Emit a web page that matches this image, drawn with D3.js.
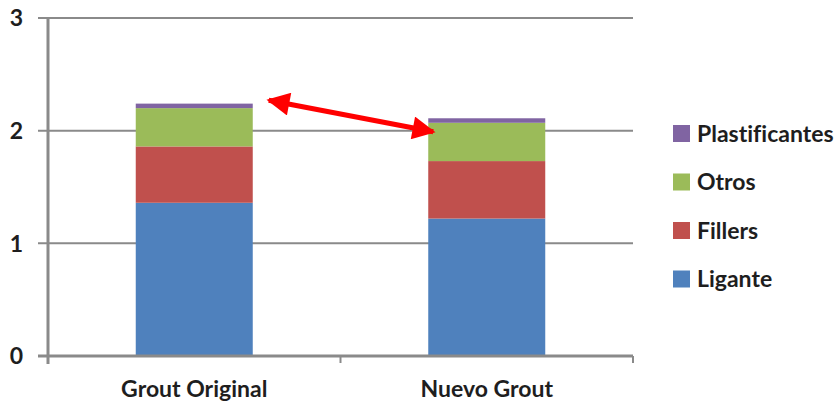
<!DOCTYPE html>
<html>
<head>
<meta charset="utf-8">
<script src="https://cdn.jsdelivr.net/npm/d3@7"></script>
<style>
  html, body { margin: 0; padding: 0; background: #fff; }
  svg { display: block; }
  text { font-family: Lato, "Open Sans", sans-serif; fill: #1e1e1e; font-variant-ligatures: none; }
</style>
</head>
<body>
<svg id="chart" width="840" height="403"></svg>
<script>
// Composition of each grout (stacked bottom to top)
const categories = ["Grout Original", "Nuevo Grout"];
const seriesNames = ["Ligante", "Fillers", "Otros", "Plastificantes"];
const ligante = [1.36, 1.22];
const fillers = [0.50, 0.51];
const otros = [0.34, 0.34];
const plastificantes = [0.04, 0.04];
const yTicks = [0, 1, 2, 3];
const seriesColors = ["#4F81BD", "#C0504D", "#9BBB59", "#8064A2"];

const rows = categories.map((c, i) => ({
  category: c,
  Ligante: ligante[i],
  Fillers: fillers[i],
  Otros: otros[i],
  Plastificantes: plastificantes[i]
}));

const svg = d3.select("#chart");
const plotLeft = 48, plotRight = 633, plotTop = 18, plotBottom = 356;
const fontSize = 23;

const x = d3.scaleBand().domain(categories).range([plotLeft, plotRight]).padding(0);
const y = d3.scaleLinear().domain([0, 3]).range([plotBottom, plotTop]);
const color = d3.scaleOrdinal().domain(seriesNames).range(seriesColors);

const axisColor = "#8a8a8a";

// Horizontal gridlines with short ticks to the left of the axis
svg.append("g")
  .selectAll("line")
  .data(yTicks.filter(t => t > 0))
  .join("line")
  .attr("x1", plotLeft - 10).attr("x2", plotRight)
  .attr("y1", d => y(d)).attr("y2", d => y(d))
  .attr("stroke", axisColor).attr("stroke-width", 2);

// Y tick labels
svg.append("g")
  .selectAll("text")
  .data(yTicks)
  .join("text")
  .attr("x", 23)
  .attr("y", d => y(d))
  .attr("dy", "0.36em")
  .attr("text-anchor", "end")
  .attr("font-size", fontSize)
  .attr("font-weight", 700)
  .text(d => d);

// Stacked bars
const stacked = d3.stack().keys(seriesNames)(rows);
const barW = x.bandwidth() * 0.4;
svg.append("g")
  .selectAll("g")
  .data(stacked)
  .join("g")
  .attr("fill", d => color(d.key))
  .selectAll("rect")
  .data(d => d)
  .join("rect")
  .attr("x", d => x(d.data.category) + (x.bandwidth() - barW) / 2)
  .attr("width", barW)
  .attr("y", d => y(d[1]))
  .attr("height", d => y(d[0]) - y(d[1]));

// Axes: vertical axis and baseline with category separators
svg.append("line")
  .attr("x1", plotLeft - 10).attr("x2", plotRight)
  .attr("y1", plotBottom).attr("y2", plotBottom)
  .attr("stroke", axisColor).attr("stroke-width", 3);
svg.append("line")
  .attr("x1", plotLeft).attr("x2", plotLeft)
  .attr("y1", plotTop).attr("y2", plotBottom + 8)
  .attr("stroke", axisColor).attr("stroke-width", 3);
const seps = categories.map(c => x(c) + x.bandwidth());
svg.append("g")
  .selectAll("line")
  .data(seps)
  .join("line")
  .attr("x1", d => d).attr("x2", d => d)
  .attr("y1", plotBottom).attr("y2", plotBottom + 7)
  .attr("stroke", axisColor).attr("stroke-width", 2);

// Category labels
svg.append("g")
  .selectAll("text")
  .data(categories)
  .join("text")
  .attr("x", d => x(d) + x.bandwidth() / 2)
  .attr("y", 397)
  .attr("text-anchor", "middle")
  .attr("font-size", fontSize)
  .attr("font-weight", 700)
  .text(d => d);

// Legend, top entry is the top of the stack
const legendItems = seriesNames.slice().reverse();
const legend = svg.append("g")
  .selectAll("g")
  .data(legendItems)
  .join("g")
  .attr("transform", (d, i) => `translate(673, ${125 + i * 48.5})`);
legend.append("rect")
  .attr("width", 17).attr("height", 17)
  .attr("fill", d => color(d));
legend.append("text")
  .attr("x", 24).attr("y", 8.5).attr("dy", "0.36em")
  .attr("font-size", fontSize)
  .attr("font-weight", 700)
  .text(d => d);

// Red double-headed arrow between the tops of the two bars
const defs = svg.append("defs");
defs.append("marker")
  .attr("id", "head")
  .attr("viewBox", "0 0 10 10")
  .attr("refX", 9).attr("refY", 5)
  .attr("markerWidth", 4.8).attr("markerHeight", 4.6)
  .attr("markerUnits", "strokeWidth")
  .attr("orient", "auto-start-reverse")
  .append("path")
  .attr("d", "M0,0 L10,5 L0,10 z")
  .attr("fill", "#ff0000");

const b1 = x(categories[0]) + (x.bandwidth() + barW) / 2;
const b2 = x(categories[1]) + (x.bandwidth() - barW) / 2;
svg.append("line")
  .attr("x1", b1 + 16).attr("y1", y(2.27))
  .attr("x2", b2 + 5).attr("y2", y(1.99))
  .attr("stroke", "#ff0000").attr("stroke-width", 5)
  .attr("marker-start", "url(#head)")
  .attr("marker-end", "url(#head)");
</script>
</body>
</html>
